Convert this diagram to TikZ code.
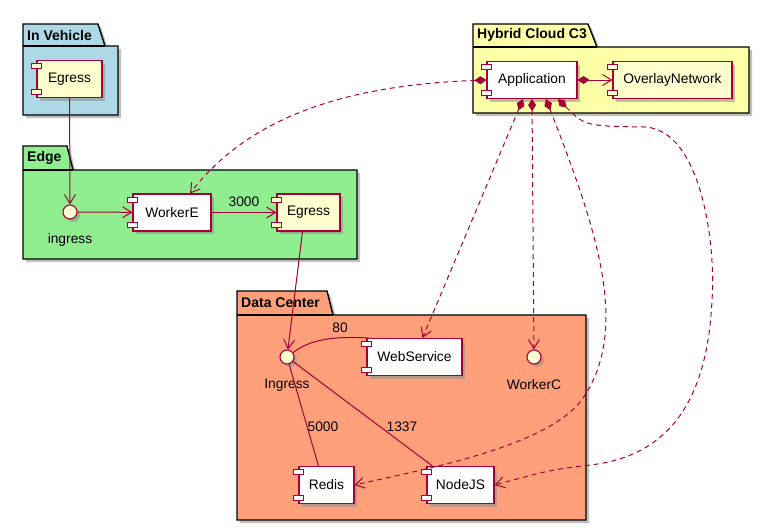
\documentclass[tikz,border=0pt]{standalone}
\usepackage{fontspec}
\setmainfont{Liberation Sans}
\usetikzlibrary{arrows.meta,shadows}
\definecolor{umlred}{HTML}{A80036}
\definecolor{umlfill}{HTML}{FEFECE}
\definecolor{vehiclebg}{HTML}{ADD8E6}
\definecolor{edgebg}{HTML}{90EE90}
\definecolor{cloudbg}{HTML}{FFFFA8}
\definecolor{dcbg}{HTML}{FFA07A}

\begin{document}
\begin{tikzpicture}[
    x=1pt, y=-1pt,
    font=\fontsize{13.8}{16}\selectfont,
    shadowed/.style={drop shadow={shadow xshift=3pt, shadow yshift=-3pt, fill=black!45, opacity=0.55}},
    pkg/.style={draw=black, line width=1.4pt, shadowed},
    pkgtitle/.style={anchor=west, inner sep=0pt, font=\fontsize{14}{16}\selectfont\bfseries},
    comp/.style={draw=umlred, line width=1.1pt, minimum height=37pt, inner sep=0pt, shadowed},
    pin/.style={draw=umlred, line width=1pt},
    iface/.style={circle, draw=umlred, fill=umlfill, line width=1.1pt, minimum size=14pt, inner sep=0pt, shadowed},
    lbl/.style={inner sep=1pt},
    arr/.style={-{Straight Barb[length=9pt,width=11pt,line width=1pt]}, draw=umlred, line width=1pt},
    link/.style={draw=umlred, line width=1pt},
    dep/.style={{Diamond[length=12pt,width=8pt]}-{Straight Barb[length=9pt,width=11pt,line width=1pt]}, draw=umlred, line width=1pt, dash pattern=on 5pt off 4pt}
  ]
  \useasboundingbox (0,0) rectangle (769,531);

  % packages
  \draw[pkg, fill=vehiclebg] (23,24) -- (98,24) -- (105,46) -- (118,46) -- (118,115) -- (23,115) -- cycle;
  \draw[line width=1.4pt] (23,46) -- (105,46);
  \node[pkgtitle] (vehicle) at (27,35) {In Vehicle};

  \draw[pkg, fill=edgebg] (23,146) -- (67,146) -- (73,170) -- (357,170) -- (357,259) -- (23,259) -- cycle;
  \draw[line width=1.4pt] (23,170) -- (73,170);
  \node[pkgtitle] (edge) at (27,158) {Edge};

  \draw[pkg, fill=cloudbg] (473,24) -- (588,24) -- (597,47) -- (749,47) -- (749,113) -- (473,113) -- cycle;
  \draw[line width=1.4pt] (473,47) -- (597,47);
  \node[pkgtitle] (cloud) at (477,35) {Hybrid Cloud C3};

  \draw[pkg, fill=dcbg] (237,291) -- (327,291) -- (333,315) -- (586,315) -- (586,520) -- (237,520) -- cycle;
  \draw[line width=1.4pt] (237,315) -- (333,315);
  \node[pkgtitle] (dc) at (241,303) {Data Center};

  % components
  \node[comp, fill=umlfill, minimum width=65pt] (vegress) at (69.5,79) {Egress};
  \node[iface] (ingress) at (70,212) {};
  \node[lbl] (ingresslbl) at (70,240) {ingress};
  \node[comp, fill=white, minimum width=78pt] (workere) at (172,212.5) {WorkerE};
  \node[comp, fill=umlfill, minimum width=63pt] (eegress) at (308.5,212.5) {Egress};
  \node[comp, fill=white, minimum width=90pt] (app) at (532,80) {Application};
  \node[comp, fill=umlfill, minimum width=119pt] (overlay) at (672.5,80) {OverlayNetwork};
  \node[iface] (dcingress) at (287,357) {};
  \node[lbl] (dcingresslbl) at (287,385) {Ingress};
  \node[comp, fill=white, minimum width=95pt] (websvc) at (414.5,357) {WebService};
  \node[iface] (workerc) at (534,357) {};
  \node[lbl] (workerclbl) at (534,385) {WorkerC};
  \node[comp, fill=white, minimum width=55pt] (redis) at (326.5,485) {Redis};
  \node[comp, fill=white, minimum width=67pt] (nodejs) at (460.5,485) {NodeJS};

  \foreach \n/\c in {vegress/umlfill, workere/white, eegress/umlfill, app/white,
                     overlay/umlfill, websvc/white, redis/white, nodejs/white} {
    \draw[pin, fill=\c] ([xshift=-5pt,yshift=-4pt]\n.north west) rectangle ++(10pt,-5pt);
    \draw[pin, fill=\c] ([xshift=-5pt,yshift=9pt]\n.south west) rectangle ++(10pt,-5pt);
  }

  % connectors
  \draw[arr] (vegress) -- (ingress);
  \draw[arr] (ingress) -- (workere);
  \draw[arr] (workere) -- (eegress);
  \node[lbl] (l3000) at (244,202) {3000};
  \draw[arr] ([xshift=-6pt]eegress.south) -- (dcingress);

  \draw[link] (dcingress) .. controls (310,340) and (330,336) .. ([xshift=2pt]websvc.north west);
  \node[lbl] (l80) at (340,328) {80};
  \draw[link] (dcingress) -- ([xshift=-8pt]redis.north);
  \node[lbl] (l5000) at (323,427) {5000};
  \draw[link] (dcingress) -- ([xshift=6pt]nodejs.north west);
  \node[lbl] (l1337) at (402,427) {1337};

  \draw[{Diamond[length=12pt,width=8pt]}-{Straight Barb[length=9pt,width=11pt,line width=1pt]}, draw=umlred, line width=1pt] (app) -- (overlay);
  \draw[dep] (app.west) .. controls (350,85) and (250,115) .. ([xshift=18pt]workere.north);
  \draw[dep] ([xshift=-9pt]app.south) -- ([xshift=8pt]websvc.north);
  \draw[dep] (app.south) -- (workerc);
  \draw[dep] ([xshift=14pt]app.south) .. controls (595,225) and (630,325) .. (585,395)
    .. controls (555,445) and (430,468) .. (redis.east);
  \draw[dep] ([xshift=26pt]app.south) .. controls (585,126) .. (645,127)
    .. controls (700,130) and (716,240) .. (712,300)
    .. controls (708,385) and (680,455) .. (590,465)
    .. controls (550,470) .. (nodejs.east);
\end{tikzpicture}
\end{document}
